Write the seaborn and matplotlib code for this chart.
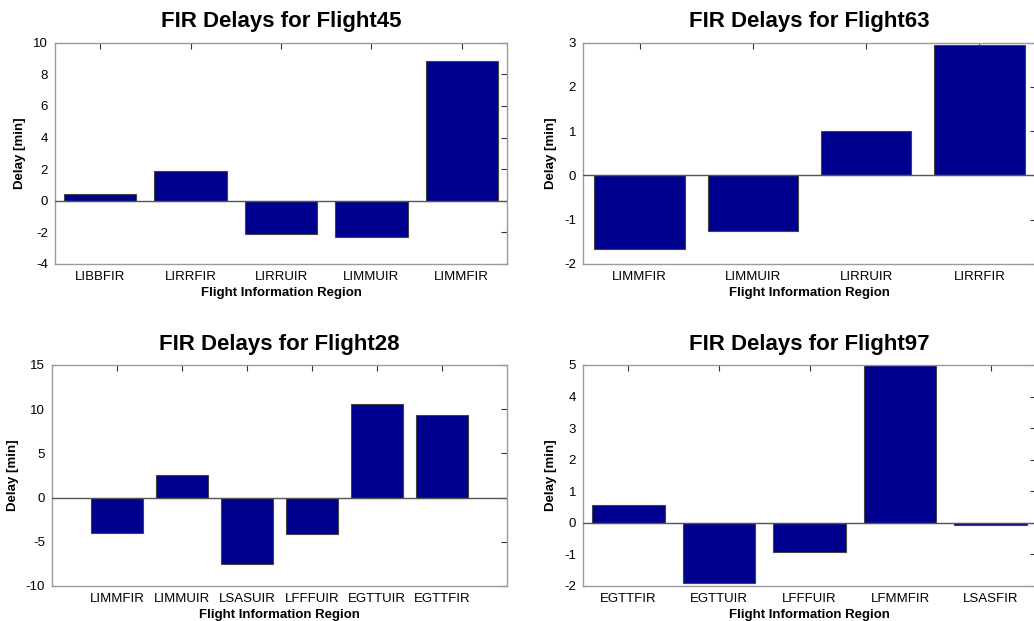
import matplotlib
matplotlib.use("Agg")
import matplotlib.pyplot as plt
import seaborn as sns
import pandas as pd

sns.set_style("white")
plt.rcParams['font.family'] = ['Liberation Sans', 'DejaVu Sans']
plt.rcParams['axes.unicode_minus'] = False
plt.rcParams['text.color'] = 'black'
plt.rcParams['axes.labelcolor'] = 'black'
plt.rcParams['xtick.color'] = 'black'
plt.rcParams['ytick.color'] = 'black'

# Data
flight45_regions = ["LIBBFIR", "LIRRFIR", "LIRRUIR", "LIMMUIR", "LIMMFIR"]
flight45_delays = [0.44, 1.86, -2.11, -2.28, 8.86]

flight63_regions = ["LIMMFIR", "LIMMUIR", "LIRRUIR", "LIRRFIR"]
flight63_delays = [-1.66, -1.25, 1.0, 2.94]

flight28_regions = ["LIMMFIR", "LIMMUIR", "LSASUIR", "LFFFUIR", "EGTTUIR", "EGTTFIR"]
flight28_delays = [-3.96, 2.53, -7.47, -4.15, 10.63, 9.35]

flight97_regions = ["EGTTFIR", "EGTTUIR", "LFFFUIR", "LFMMFIR", "LSASFIR"]
flight97_delays = [0.58, -1.92, -0.92, 5.0, -0.08]

panels = [
    ("Flight45", flight45_regions, flight45_delays, (-4, 10), list(range(-4, 11, 2)), (-0.5, 4.5)),
    ("Flight63", flight63_regions, flight63_delays, (-2, 3), list(range(-2, 4, 1)), (-0.5, 3.5)),
    ("Flight28", flight28_regions, flight28_delays, (-10, 15), list(range(-10, 16, 5)), (-1.0, 6.0)),
    ("Flight97", flight97_regions, flight97_delays, (-2, 5), list(range(-2, 6, 1)), (-0.5, 4.5)),
]

W, H = 1034, 621
fig = plt.figure(figsize=(W / 100, H / 100), dpi=100)

def rect(l, r, t, b):
    return [l / W, 1 - b / H, (r - l) / W, (b - t) / H]

positions = [
    rect(55, 507, 42.7, 264),
    rect(583, 1036, 42.7, 264),
    rect(52, 507, 365, 586),
    rect(583, 1036, 365, 586),
]

bar_color = "#00008F"
spine_color = "#9a9a9a"

for (name, regions, delays, ylim, yticks, xlim), pos in zip(panels, positions):
    ax = fig.add_axes(pos)
    df = pd.DataFrame({"Region": regions, "Delay": delays})
    sns.barplot(data=df, x="Region", y="Delay", color=bar_color, saturation=1,
                width=0.8, edgecolor="#444444", linewidth=0.8, ax=ax, zorder=2)
    ax.axhline(0, color="#555555", lw=1.0, zorder=3)
    ax.set_ylim(*ylim)
    ax.set_yticks(yticks)
    ax.set_xlim(*xlim)
    ax.set_title(f"FIR Delays for {name}", fontsize=16, fontweight="bold", pad=11,
                 color="black")
    ax.set_xlabel("Flight Information Region", fontsize=9.5, fontweight="bold", labelpad=3)
    ax.set_ylabel("Delay [min]", fontsize=9.5, fontweight="bold", labelpad=5)
    ax.tick_params(direction="in", top=True, right=True, length=4, width=0.8,
                   color="#333333", labelcolor="black", labelsize=9.5, pad=5)
    for s in ax.spines.values():
        s.set_color(spine_color)
        s.set_linewidth(1.0)
        s.set_visible(True)

fig.savefig("out.png", dpi=100)
